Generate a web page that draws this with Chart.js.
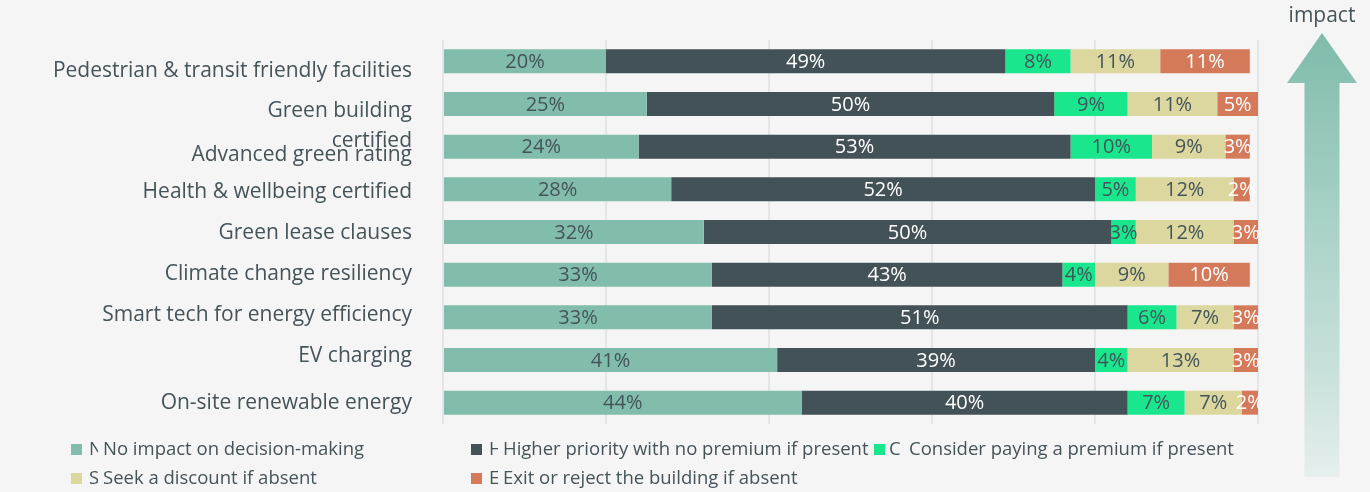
<!DOCTYPE html>
<html>
<head>
<meta charset="utf-8">
<title>Sustainability features and leasing decisions</title>
<script src="https://cdn.jsdelivr.net/npm/chart.js@4.4.1/dist/chart.umd.min.js"></script>
<style>
  html, body { margin: 0; padding: 0; background: #f5f5f5; }
  #wrap { position: relative; width: 1370px; height: 492px; }
</style>
</head>
<body>
<div id="wrap"><canvas id="chart"></canvas></div>
<script>
// ---- data ----
const categories = [
  "Pedestrian & transit friendly facilities",
  ["Green building", "certified"],
  "Advanced green rating",
  "Health & wellbeing certified",
  "Green lease clauses",
  "Climate change resiliency",
  "Smart tech for energy efficiency",
  "EV charging",
  "On-site renewable energy"
];

const seriesNames = [
  "No impact on decision-making",
  "Higher priority with no premium if present",
  "Consider paying a premium if present",
  "Seek a discount if absent",
  "Exit or reject the building if absent"
];

const noImpact        = [20, 25, 24, 28, 32, 33, 33, 41, 44];
const higherPriority  = [49, 50, 53, 52, 50, 43, 51, 39, 40];
const considerPremium = [ 8,  9, 10,  5,  3,  4,  6,  4,  7];
const seekDiscount    = [11, 11,  9, 12, 12,  9,  7, 13,  7];
const exitReject      = [11,  5,  3,  2,  3, 10,  3,  3,  2];

const axisMin = 0;
const axisMax = 100;
const axisStep = 20;

const arrowLabel = "impact";

// ---- styles ----
const TEXT = "#44545a";
const FONT = '"Open Sans", "Noto Sans", sans-serif';
const seriesColors = ["#82bcad", "#435256", "#1ae68d", "#dcd79f", "#d4795a"];
const valueColors  = [TEXT, "#ffffff", TEXT, TEXT, "#ffffff"];
// small vertical nudges of the category text relative to each bar row
const labelNudge = [10, 7, 8, 3, 1, -1, -2, -4, 0];
// legend layout: swatch, initial, caption x positions and row centre
const legendSlots = [
  { box: 71,  initial: 89,  caption: 103, y: 450 },
  { box: 471, initial: 489, caption: 503, y: 450 },
  { box: 874, initial: 889, caption: 909, y: 450 },
  { box: 71,  initial: 89,  caption: 103, y: 479 },
  { box: 471, initial: 489, caption: 503, y: 479 }
];

const seriesValues = [noImpact, higherPriority, considerPremium, seekDiscount, exitReject];

const datasets = seriesNames.map((name, i) => ({
  label: name,
  data: seriesValues[i],
  backgroundColor: seriesColors[i],
  borderWidth: 0,
  barPercentage: 0.5625,
  categoryPercentage: 1
}));

// value text centred in every segment
const valueLabels = {
  id: "valueLabels",
  afterDatasetsDraw(chart) {
    const ctx = chart.ctx;
    ctx.save();
    ctx.font = "20px " + FONT;
    ctx.textAlign = "center";
    ctx.textBaseline = "middle";
    chart.data.datasets.forEach((ds, i) => {
      const meta = chart.getDatasetMeta(i);
      meta.data.forEach((bar, j) => {
        const cx = (bar.x + bar.base) / 2;
        ctx.fillStyle = valueColors[i];
        ctx.fillText(ds.data[j] + "%", cx, bar.y + 1);
      });
    });
    ctx.restore();
  }
};

// category names to the left of the plot
const categoryText = {
  id: "categoryText",
  afterDraw(chart) {
    const ctx = chart.ctx;
    const y = chart.scales.y;
    const right = chart.chartArea.left - 31;
    ctx.save();
    ctx.font = "21px " + FONT;
    ctx.fillStyle = TEXT;
    ctx.textAlign = "right";
    ctx.textBaseline = "middle";
    chart.data.labels.forEach((lab, i) => {
      const lines = Array.isArray(lab) ? lab : [lab];
      const cy = y.getPixelForValue(i) + labelNudge[i];
      lines.forEach((ln, k) => ctx.fillText(ln, right, cy + k * 30));
    });
    ctx.restore();
  }
};

// legend along the bottom
const bottomLegend = {
  id: "bottomLegend",
  afterDraw(chart) {
    const ctx = chart.ctx;
    ctx.save();
    ctx.font = "18.5px " + FONT;
    ctx.textBaseline = "middle";
    ctx.textAlign = "left";
    chart.data.datasets.forEach((ds, i) => {
      const s = legendSlots[i];
      ctx.fillStyle = ds.backgroundColor;
      ctx.fillRect(s.box, s.y - 6, 11, 11);
      ctx.fillStyle = TEXT;
      ctx.save();
      ctx.beginPath();
      ctx.rect(s.initial, s.y - 14, s.caption - 5 - s.initial, 28);
      ctx.clip();
      ctx.fillText(ds.label.charAt(0), s.initial, s.y);
      ctx.restore();
      ctx.fillText(ds.label, s.caption, s.y);
    });
    ctx.restore();
  }
};

// rising arrow on the right with its caption
const impactArrow = {
  id: "impactArrow",
  beforeDatasetsDraw(chart) {
    const ctx = chart.ctx;
    const cx = 1322, tip = 33, headBase = 83, bottom = 477;
    const half = 17.5, headHalf = 35;
    ctx.save();
    const g = ctx.createLinearGradient(0, tip, 0, bottom);
    g.addColorStop(0, "#7fbbac");
    g.addColorStop(0.45, "#abd3c9");
    g.addColorStop(0.75, "#c7e0da");
    g.addColorStop(1, "#e6efed");
    ctx.fillStyle = g;
    ctx.beginPath();
    ctx.moveTo(cx, tip);
    ctx.lineTo(cx + headHalf, headBase);
    ctx.lineTo(cx + half, headBase);
    ctx.lineTo(cx + half, bottom);
    ctx.lineTo(cx - half, bottom);
    ctx.lineTo(cx - half, headBase);
    ctx.lineTo(cx - headHalf, headBase);
    ctx.closePath();
    ctx.fill();
    ctx.font = "21px " + FONT;
    ctx.fillStyle = TEXT;
    ctx.textAlign = "center";
    ctx.textBaseline = "alphabetic";
    ctx.fillText(arrowLabel, cx, 22);
    ctx.restore();
  }
};

new Chart(document.getElementById("chart"), {
  type: "bar",
  data: { labels: categories, datasets },
  options: {
    indexAxis: "y",
    responsive: true,
    maintainAspectRatio: false,
    animation: false,
    layout: { padding: { left: 443, right: 112, top: 40, bottom: 68 } },
    scales: {
      x: {
        stacked: true,
        min: axisMin,
        max: axisMax,
        ticks: { display: false, stepSize: axisStep },
        grid: { color: "#e2e6e6", lineWidth: 2, drawTicks: false },
        border: { display: false }
      },
      y: {
        stacked: true,
        display: false
      }
    },
    plugins: {
      legend: { display: false },
      tooltip: { enabled: false }
    }
  },
  plugins: [impactArrow, valueLabels, categoryText, bottomLegend]
});
</script>
</body>
</html>
